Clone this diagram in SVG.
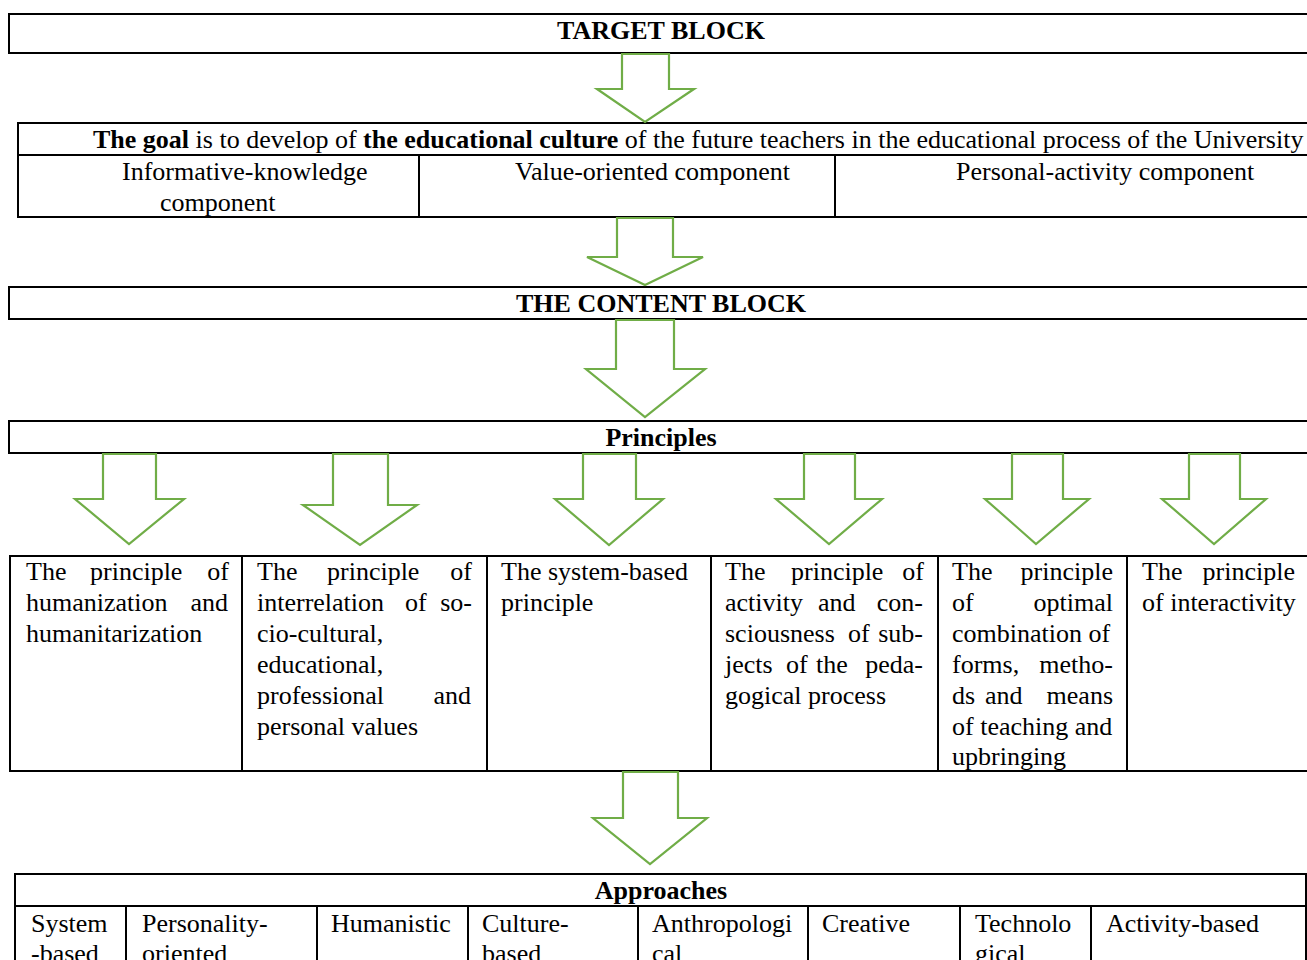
<svg xmlns="http://www.w3.org/2000/svg" width="1307" height="960" viewBox="0 0 1307 960">
<style>
.box{fill:#fff;stroke:#000;stroke-width:2}
.ln{stroke:#000;stroke-width:2;fill:none}
.t{font-family:"Liberation Serif","Times New Roman",serif;font-size:26px;fill:#000}
.b{font-weight:bold}
.c{text-anchor:middle}
.e{text-anchor:end}
.arr{fill:#fff;stroke:#70AD47;stroke-width:2.2;stroke-linejoin:miter}
</style>
<rect width="1307" height="960" fill="#fff"/>

<g id="target-block">
<rect class="box" x="9" y="14" width="1320" height="39"/>
<text class="t b c" x="661" y="39">TARGET BLOCK</text>
</g>

<g id="goal-table">
<rect class="box" x="18" y="123" width="1310" height="94"/>
<line class="ln" x1="18" y1="155" x2="1310" y2="155"/>
<line class="ln" x1="419" y1="155" x2="419" y2="217"/>
<line class="ln" x1="835" y1="155" x2="835" y2="217"/>
<text class="t" x="93" y="148"><tspan class="b">The goal</tspan> is to develop of <tspan class="b">the educational culture</tspan> of the future teachers in the educational process of the University</text>
<text class="t" x="122" y="180">Informative-knowledge</text>
<text class="t" x="160" y="211">component</text>
<text class="t" x="515" y="180">Value-oriented component</text>
<text class="t" x="956" y="180">Personal-activity component</text>
</g>

<g id="content-block">
<rect class="box" x="9" y="287" width="1320" height="32"/>
<text class="t b c" x="661" y="312">THE CONTENT BLOCK</text>
</g>

<g id="principles-block">
<rect class="box" x="9" y="421" width="1320" height="32"/>
<text class="t b c" x="661" y="446">Principles</text>
</g>

<g id="principles-table">
<rect class="box" x="10" y="556" width="1320" height="215"/>
<line class="ln" x1="242" y1="556" x2="242" y2="771"/>
<line class="ln" x1="487" y1="556" x2="487" y2="771"/>
<line class="ln" x1="711" y1="556" x2="711" y2="771"/>
<line class="ln" x1="938" y1="556" x2="938" y2="771"/>
<line class="ln" x1="1127" y1="556" x2="1127" y2="771"/>
</g>

<g id="principle-1">
<text class="t" x="26" y="580">The</text><text class="t" x="90" y="580">principle</text><text class="t e" x="229" y="580">of</text>
<text class="t" x="26" y="611">humanization</text><text class="t e" x="228" y="611">and</text>
<text class="t" x="26" y="642">humanitarization</text>
</g>

<g id="principle-2">
<text class="t" x="257" y="580">The</text><text class="t" x="327" y="580">principle</text><text class="t e" x="472" y="580">of</text>
<text class="t" x="257" y="611">interrelation</text><text class="t" x="405" y="611">of</text><text class="t e" x="472" y="611">so-</text>
<text class="t" x="257" y="642">cio-cultural,</text>
<text class="t" x="257" y="673">educational,</text>
<text class="t" x="257" y="704">professional</text><text class="t e" x="471" y="704">and</text>
<text class="t" x="257" y="735">personal values</text>
</g>

<g id="principle-3">
<text class="t" x="501" y="580">The system-based</text>
<text class="t" x="501" y="611">principle</text>
</g>

<g id="principle-4">
<text class="t" x="725" y="580">The</text><text class="t" x="791" y="580">principle</text><text class="t e" x="924" y="580">of</text>
<text class="t" x="725" y="611">activity</text><text class="t" x="818" y="611">and</text><text class="t e" x="923" y="611">con-</text>
<text class="t" x="725" y="642">sciousness</text><text class="t" x="848" y="642">of</text><text class="t e" x="923" y="642">sub-</text>
<text class="t" x="725" y="673">jects</text><text class="t" x="786" y="673">of</text><text class="t" x="816" y="673">the</text><text class="t e" x="923" y="673">peda-</text>
<text class="t" x="725" y="704">gogical process</text>
</g>

<g id="principle-5">
<text class="t" x="952" y="580">The</text><text class="t e" x="1113" y="580">principle</text>
<text class="t" x="952" y="611">of</text><text class="t e" x="1113" y="611">optimal</text>
<text class="t" x="952" y="642">combination of</text>
<text class="t" x="952" y="673">forms,</text><text class="t e" x="1113" y="673">metho-</text>
<text class="t" x="952" y="704">ds</text><text class="t" x="985" y="704">and</text><text class="t e" x="1113" y="704">means</text>
<text class="t" x="952" y="735">of teaching and</text>
<text class="t" x="952" y="765">upbringing</text>
</g>

<g id="principle-6">
<text class="t" x="1142" y="580">The</text><text class="t e" x="1295" y="580">principle</text>
<text class="t" x="1142" y="611">of interactivity</text>
</g>

<g id="approaches-table">
<rect class="box" x="15" y="874" width="1291" height="200"/>
<line class="ln" x1="15" y1="906" x2="1306" y2="906"/>
<line class="ln" x1="126" y1="906" x2="126" y2="960"/>
<line class="ln" x1="317" y1="906" x2="317" y2="960"/>
<line class="ln" x1="468" y1="906" x2="468" y2="960"/>
<line class="ln" x1="638" y1="906" x2="638" y2="960"/>
<line class="ln" x1="808" y1="906" x2="808" y2="960"/>
<line class="ln" x1="960" y1="906" x2="960" y2="960"/>
<line class="ln" x1="1091" y1="906" x2="1091" y2="960"/>
<text class="t b c" x="661" y="899">Approaches</text>
</g>
<g id="approach-1"><text class="t" x="31" y="932">System</text><text class="t" x="31" y="962">-based</text></g>
<g id="approach-2"><text class="t" x="142" y="932">Personality-</text><text class="t" x="142" y="962">oriented</text></g>
<g id="approach-3"><text class="t" x="331" y="932">Humanistic</text></g>
<g id="approach-4"><text class="t" x="482" y="932">Culture-</text><text class="t" x="482" y="962">based</text></g>
<g id="approach-5"><text class="t" x="652" y="932">Anthropologi</text><text class="t" x="652" y="962">cal</text></g>
<g id="approach-6"><text class="t" x="822" y="932">Creative</text></g>
<g id="approach-7"><text class="t" x="975" y="932">Technolo</text><text class="t" x="975" y="962">gical</text></g>
<g id="approach-8"><text class="t" x="1106" y="932">Activity-based</text></g>

<g id="connectors">
<path class="arr" d="M622,54 H669 V89 H694 L645,122 L597,89 H622 Z"/>
<path class="arr" d="M617,218 H673 V257 H703 L645,285 L587,257 H617 Z"/>
<path class="arr" d="M616,320 H674 V369 H705 L645,417 L586,369 H616 Z"/>
<path class="arr" d="M103,454 H156 V499 H184 L129,544 L75,499 H103 Z"/>
<path class="arr" d="M333,454 H388 V505 H417 L360,545 L303,505 H333 Z"/>
<path class="arr" d="M583,454 H636 V499 H663 L609,545 L555,499 H583 Z"/>
<path class="arr" d="M804,454 H855 V499 H882 L829,544 L776,499 H804 Z"/>
<path class="arr" d="M1012,454 H1063 V499 H1089 L1036,544 L985,499 H1012 Z"/>
<path class="arr" d="M1189,454 H1240 V499 H1266 L1214,544 L1162,499 H1189 Z"/>
<path class="arr" d="M623,772 H678 V818 H707 L650,864 L593,818 H623 Z"/>
</g>
</svg>
